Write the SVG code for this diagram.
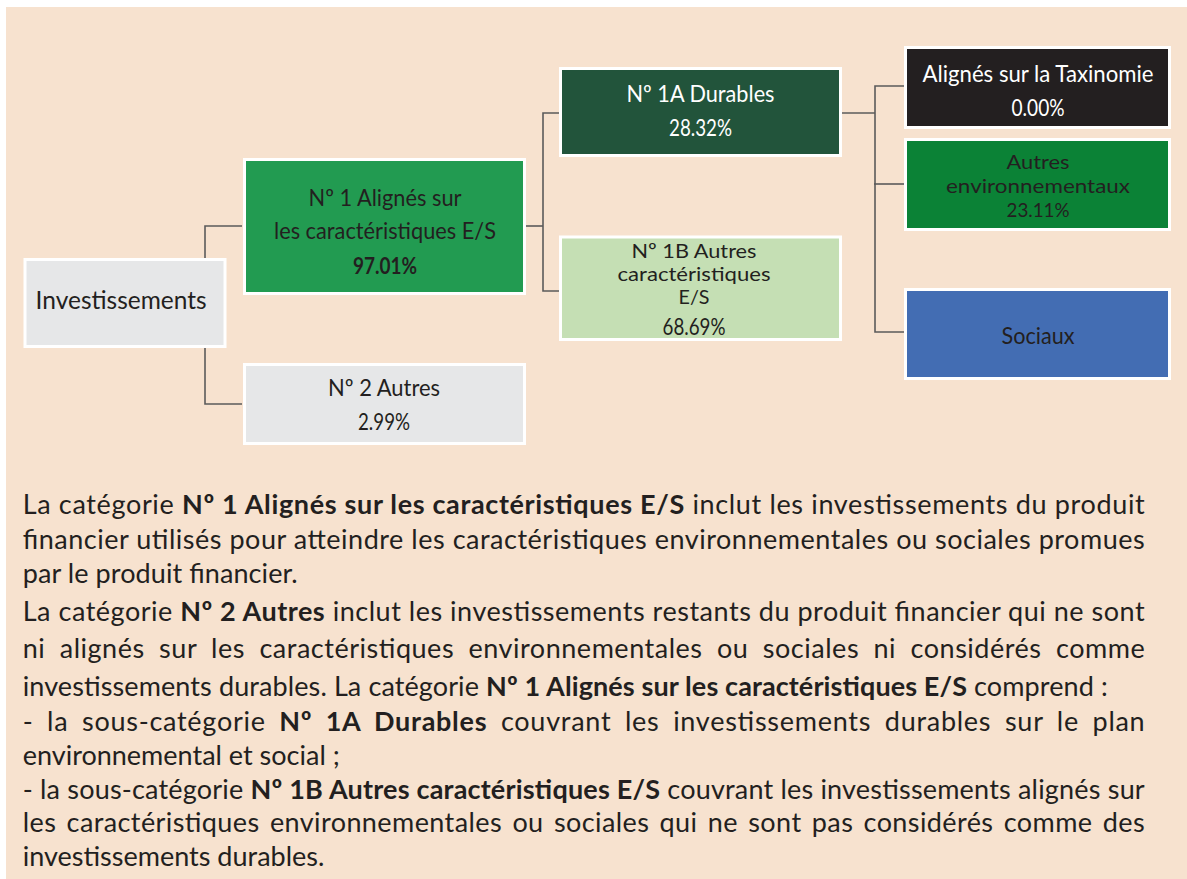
<svg xmlns="http://www.w3.org/2000/svg" width="1187" height="879" viewBox="0 0 1187 879">
<style>
.bg{fill:#f7e2cf}
.box{stroke:#ffffff;stroke-width:3}
.t{font-family:Lato,"Open Sans","Liberation Sans",sans-serif;font-size:23px;text-anchor:middle;fill:#231f20}
.s{font-size:20px}
.w{fill:#ffffff}
.p{font-family:Lato,"Open Sans","Liberation Sans",sans-serif;font-size:27px;fill:#231f20}
.b{font-weight:bold}
.conn{fill:none;stroke:#5b5b5b;stroke-width:1.6}
</style>
<rect x="0" y="0" width="1187" height="879" fill="#ffffff"/>
<rect class="bg" x="6" y="7" width="1181" height="872"/>
<g id="connectors">
<path class="conn" d="M242,226 H205 V258"/>
<path class="conn" d="M205,348 V404 H242"/>
<path class="conn" d="M526,226 H543"/>
<path class="conn" d="M560,113 H543 V291 H560"/>
<path class="conn" d="M842,113 H875"/>
<path class="conn" d="M904,86 H875 V332 H904"/>
<path class="conn" d="M874,184 H904"/>
</g>
<g id="investissements">
<rect class="box" x="25" y="259.5" width="200" height="87" fill="#e6e7e8"/>
<text class="t" style="text-anchor:start;font-size:25px" x="35.6" y="309" textLength="171" lengthAdjust="spacingAndGlyphs">Investissements</text>
</g>
<g id="n1">
<rect class="box" x="244.5" y="159.5" width="280" height="134" fill="#229b51"/>
<text class="t" x="385" y="206" textLength="153" lengthAdjust="spacingAndGlyphs">Nº 1 Alignés sur</text>
<text class="t" x="385" y="239" textLength="222" lengthAdjust="spacingAndGlyphs">les caractéristiques E/S</text>
<text class="t b" x="385" y="274" textLength="64" lengthAdjust="spacingAndGlyphs">97.01%</text>
</g>
<g id="n2">
<rect class="box" x="244.5" y="364.5" width="280" height="79" fill="#e6e7e8"/>
<text class="t" x="384" y="396" textLength="112" lengthAdjust="spacingAndGlyphs">Nº 2 Autres</text>
<text class="t" x="384" y="430" textLength="52" lengthAdjust="spacingAndGlyphs">2.99%</text>
</g>
<g id="n1a">
<rect class="box" x="560.5" y="68.5" width="280" height="87" fill="#22543b"/>
<text class="t w" x="700.5" y="102" textLength="148" lengthAdjust="spacingAndGlyphs">Nº 1A Durables</text>
<text class="t w" x="700.5" y="136" textLength="63" lengthAdjust="spacingAndGlyphs">28.32%</text>
</g>
<g id="n1b">
<rect class="box" x="560.5" y="237" width="280" height="102.5" fill="#c5dfb4"/>
<text class="t s" x="694" y="258" textLength="125" lengthAdjust="spacingAndGlyphs">Nº 1B Autres</text>
<text class="t s" x="694" y="281" textLength="153" lengthAdjust="spacingAndGlyphs">caractéristiques</text>
<text class="t s" x="694" y="304" textLength="31" lengthAdjust="spacingAndGlyphs">E/S</text>
<text class="t" x="694" y="335" textLength="63" lengthAdjust="spacingAndGlyphs">68.69%</text>
</g>
<g id="taxinomie">
<rect class="box" x="905.5" y="47.5" width="264" height="80" fill="#231f20"/>
<text class="t w" x="1038" y="82" textLength="231" lengthAdjust="spacingAndGlyphs">Alignés sur la Taxinomie</text>
<text class="t w" x="1038" y="116" textLength="53" lengthAdjust="spacingAndGlyphs">0.00%</text>
</g>
<g id="autres-env">
<rect class="box" x="905.5" y="139.5" width="264" height="90" fill="#0b8236"/>
<text class="t s" x="1038" y="169" textLength="63" lengthAdjust="spacingAndGlyphs">Autres</text>
<text class="t s" x="1038" y="193" textLength="184" lengthAdjust="spacingAndGlyphs">environnementaux</text>
<text class="t s" x="1038" y="217" textLength="63" lengthAdjust="spacingAndGlyphs">23.11%</text>
</g>
<g id="sociaux">
<rect class="box" x="905.5" y="289.5" width="264" height="89" fill="#436db3"/>
<text class="t" x="1038" y="344" textLength="73" lengthAdjust="spacingAndGlyphs">Sociaux</text>
</g>
<g id="description">
<text class="p" x="22.7" y="514" textLength="1122" lengthAdjust="spacing">La catégorie <tspan class="b">Nº 1 Alignés sur les caractéristiques E/S</tspan> inclut les investissements du produit</text>
<text class="p" x="22.7" y="549" textLength="1122" lengthAdjust="spacing">financier utilisés pour atteindre les caractéristiques environnementales ou sociales promues</text>
<text class="p" x="22.7" y="583" textLength="275" lengthAdjust="spacing">par le produit financier.</text>
<text class="p" x="22.7" y="621" textLength="1122" lengthAdjust="spacing">La catégorie <tspan class="b">Nº 2 Autres</tspan> inclut les investissements restants du produit financier qui ne sont</text>
<text class="p" x="22.7" y="658" word-spacing="7" textLength="1122" lengthAdjust="spacing">ni alignés sur les caractéristiques environnementales ou sociales ni considérés comme</text>
<text class="p" x="22.7" y="696" textLength="1085" lengthAdjust="spacing">investissements durables. La catégorie <tspan class="b">Nº 1 Alignés sur les caractéristiques E/S</tspan> comprend :</text>
<text class="p" x="22.7" y="731" word-spacing="6" textLength="1122" lengthAdjust="spacing">- la sous-catégorie <tspan class="b">Nº 1A Durables</tspan> couvrant les investissements durables sur le plan</text>
<text class="p" x="22.7" y="765">environnemental et social ;</text>
<text class="p" x="22.7" y="799" textLength="1122" lengthAdjust="spacing">- la sous-catégorie <tspan class="b">Nº 1B Autres caractéristiques E/S</tspan> couvrant les investissements alignés sur</text>
<text class="p" x="22.7" y="832" word-spacing="3" textLength="1122" lengthAdjust="spacing">les caractéristiques environnementales ou sociales qui ne sont pas considérés comme des</text>
<text class="p" x="22.7" y="866">investissements durables.</text>
</g>
</svg>
